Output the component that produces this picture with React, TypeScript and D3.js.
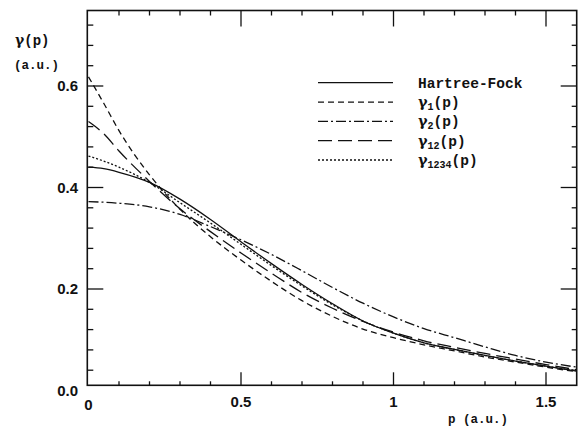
import React from 'react';
import * as d3 from 'd3';

const P = [0, 0.05, 0.1, 0.2, 0.3, 0.4, 0.5, 0.6, 0.7, 0.8, 0.9, 1.0, 1.1, 1.2, 1.3, 1.4, 1.5, 1.6];
const hartreeFock = [0.440, 0.437, 0.430, 0.410, 0.377, 0.337, 0.293, 0.250, 0.209, 0.171, 0.137, 0.113, 0.094, 0.081, 0.069, 0.058, 0.048, 0.038];
const gamma1 = [0.618, 0.566, 0.512, 0.425, 0.357, 0.303, 0.257, 0.215, 0.177, 0.146, 0.121, 0.104, 0.090, 0.078, 0.066, 0.056, 0.046, 0.037];
const gamma2 = [0.372, 0.371, 0.369, 0.362, 0.347, 0.323, 0.297, 0.268, 0.236, 0.203, 0.172, 0.145, 0.122, 0.104, 0.086, 0.069, 0.056, 0.046];
const gamma12 = [0.530, 0.506, 0.472, 0.412, 0.358, 0.313, 0.271, 0.231, 0.193, 0.162, 0.136, 0.115, 0.098, 0.085, 0.073, 0.062, 0.051, 0.041];
const gamma1234 = [0.462, 0.452, 0.440, 0.410, 0.370, 0.330, 0.288, 0.246, 0.206, 0.169, 0.137, 0.113, 0.094, 0.081, 0.069, 0.058, 0.048, 0.039];

const xMajorTicks = [0.5, 1, 1.5];
const xMinorTicks = [0.1, 0.2, 0.3, 0.4, 0.6, 0.7, 0.8, 0.9, 1.1, 1.2, 1.3, 1.4];
const xTickLabels = ['0', '0.5', '1', '1.5'];
const xLabelValues = [0, 0.5, 1, 1.5];
const yMajorTicks = [0.2, 0.4, 0.6];
const yMinorTicks = [0.04, 0.08, 0.12, 0.16, 0.24, 0.28, 0.32, 0.36, 0.44, 0.48, 0.52, 0.56, 0.64, 0.68, 0.72];
const yTickLabels = ['0.0', '0.2', '0.4', '0.6'];
const yLabelValues = [0, 0.2, 0.4, 0.6];

const series = [
  { name: 'Hartree-Fock', sub: '', values: hartreeFock, dash: '' },
  { name: 'γ', sub: '1', values: gamma1, dash: '6,4' },
  { name: 'γ', sub: '2', values: gamma2, dash: '10,3,2,3' },
  { name: 'γ', sub: '12', values: gamma12, dash: '14,6' },
  { name: 'γ', sub: '1234', values: gamma1234, dash: '2,2' },
];

export default function App() {
  const W = 587, H = 429;
  const x = d3.scaleLinear().domain([0, 1.5]).range([88.5, 546]);
  const y = d3.scaleLinear().domain([0, 0.6]).range([390.5, 86]);
  const left = 87.3, right = 576.7, top = 10.5, bottom = 385.3;
  const line = d3.line<number>()
    .x((_, i) => x(P[i]))
    .y((d) => y(d))
    .curve(d3.curveMonotoneX);

  const mono = '"Liberation Mono", "DejaVu Sans Mono", monospace';
  const sans = '"Liberation Sans", Arial, sans-serif';
  const greek = '"DejaVu Serif", "Liberation Serif", serif';

  const legendX0 = 318, legendX1 = 393, legendTextX = 418;
  const legendY = d3.scalePoint<number>().domain(d3.range(series.length)).range([82.7, 160]);

  return (
    <svg width={W} height={H} style={{ position: 'absolute', left: 0, top: 0, background: '#fff' }}>
      <defs>
        <clipPath id="plotclip">
          <rect x={left} y={top} width={right - left} height={bottom - top} />
        </clipPath>
      </defs>
      <rect x={0} y={0} width={W} height={H} fill="#fff" />
      {/* curves */}
      <g clipPath="url(#plotclip)" fill="none" stroke="#111" strokeWidth={1.3}>
        {series.map((s, i) => (
          <path key={i} d={line(s.values) || ''} strokeDasharray={s.dash || undefined} />
        ))}
      </g>
      {/* frame */}
      <rect x={left} y={top} width={right - left} height={bottom - top} fill="none" stroke="#111" strokeWidth={1.6} />
      {/* ticks */}
      <g stroke="#111" strokeWidth={1.3}>
        {xMajorTicks.map((t) => (
          <g key={'xM' + t}>
            <line x1={x(t)} x2={x(t)} y1={bottom} y2={bottom - 13} />
            <line x1={x(t)} x2={x(t)} y1={top} y2={top + 16} />
          </g>
        ))}
        {xMinorTicks.map((t) => (
          <g key={'xm' + t}>
            <line x1={x(t)} x2={x(t)} y1={bottom} y2={bottom - 4} />
            <line x1={x(t)} x2={x(t)} y1={top} y2={top + 5} />
          </g>
        ))}
        {yMajorTicks.map((t) => (
          <g key={'yM' + t}>
            <line x1={left} x2={left + 16} y1={y(t)} y2={y(t)} />
            <line x1={right} x2={right - 16} y1={y(t)} y2={y(t)} />
          </g>
        ))}
        {yMinorTicks.map((t) => (
          <g key={'ym' + t}>
            <line x1={left} x2={left + 6} y1={y(t)} y2={y(t)} />
            <line x1={right} x2={right - 5} y1={y(t)} y2={y(t)} />
          </g>
        ))}
      </g>
      {/* tick labels */}
      <g fontFamily={sans} fontSize={15} fontWeight="bold" fill="#111">
        {xLabelValues.map((v, i) => (
          <text key={'xl' + i} x={x(v)} y={v === 0 ? 410 : 407} textAnchor="middle">{xTickLabels[i]}</text>
        ))}
        {yLabelValues.map((v, i) => (
          <text key={'yl' + i} x={78} y={y(v) + 5} textAnchor="end">{yTickLabels[i]}</text>
        ))}
      </g>
      {/* axis titles */}
      <g fontFamily={mono} fontWeight="bold" fill="#111">
        <text x={15} y={45} fontSize={14}><tspan fontFamily={greek}>γ</tspan>(p)</text>
        <text x={14} y={69} fontSize={12.5}>(a.u.)</text>
        <text x={448} y={423} fontSize={12.5}>p (a.u.)</text>
      </g>
      {/* legend */}
      <g>
        {series.map((s, i) => {
          const ly = legendY(i) as number;
          return (
            <g key={'lg' + i}>
              <line x1={legendX0} x2={legendX1} y1={ly} y2={ly} stroke="#111" strokeWidth={1.3}
                strokeDasharray={s.dash || undefined} />
              <text x={legendTextX} y={ly + 5} fontFamily={mono} fontWeight="bold" fontSize={14.5} fill="#111">
                {s.sub ? (
                  <>
                    <tspan fontFamily={greek}>{s.name}</tspan>
                    <tspan fontSize={10} dy={3}>{s.sub}</tspan>
                    <tspan dy={-3}>(p)</tspan>
                  </>
                ) : s.name}
              </text>
            </g>
          );
        })}
      </g>
    </svg>
  );
}
